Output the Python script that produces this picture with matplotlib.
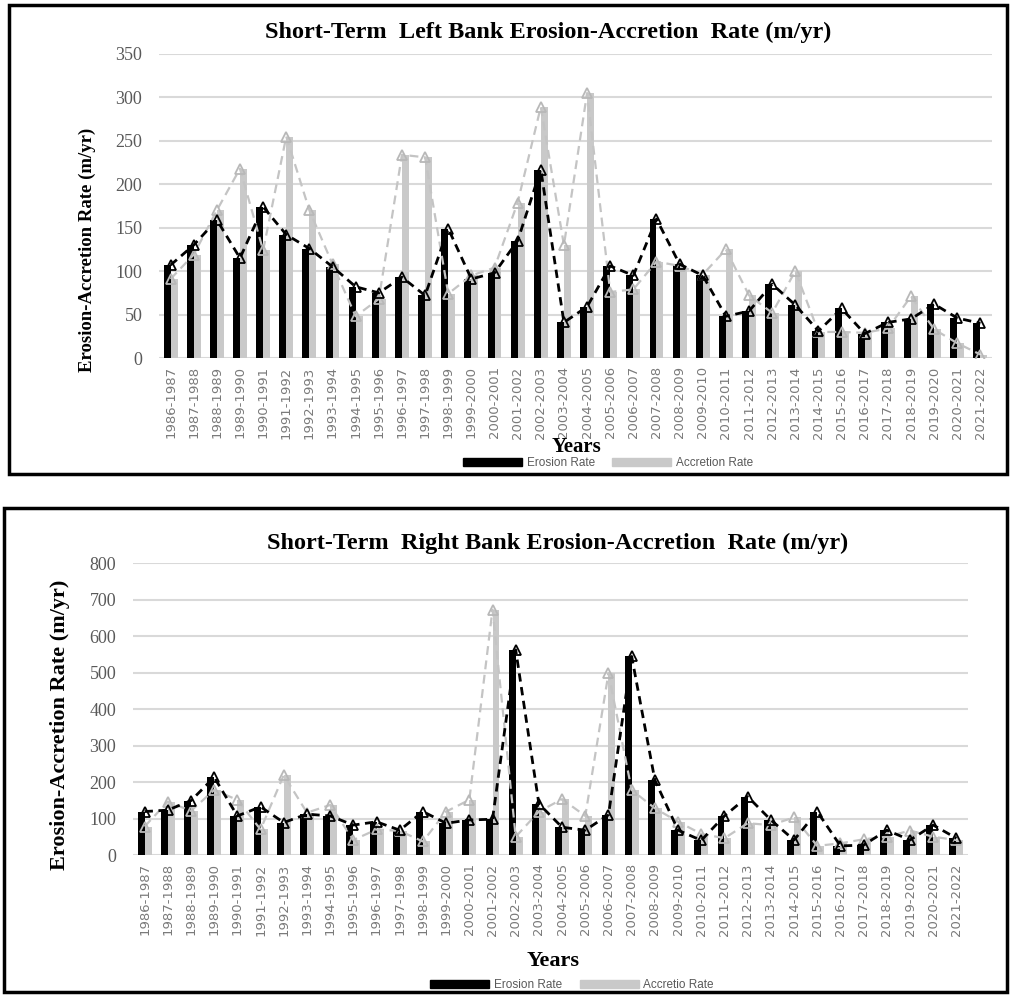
import matplotlib
matplotlib.use("Agg")
import matplotlib.pyplot as plt
from matplotlib.patches import Patch, Rectangle
import numpy as np

periods = ["1986-1987", "1987-1988", "1988-1989", "1989-1990", "1990-1991", "1991-1992",
           "1992-1993", "1993-1994", "1994-1995", "1995-1996", "1996-1997", "1997-1998",
           "1998-1999", "1999-2000", "2000-2001", "2001-2002", "2002-2003", "2003-2004",
           "2004-2005", "2005-2006", "2006-2007", "2007-2008", "2008-2009", "2009-2010",
           "2010-2011", "2011-2012", "2012-2013", "2013-2014", "2014-2015", "2015-2016",
           "2016-2017", "2017-2018", "2018-2019", "2019-2020", "2020-2021", "2021-2022"]

# Left bank rates (m/yr)
left_erosion = [107, 130, 159, 115, 174, 142, 126, 105, 82, 75, 93, 72,
                149, 91, 98, 135, 217, 41, 59, 106, 95, 160, 108, 95,
                48, 54, 85, 61, 31, 57, 28, 41, 45, 62, 46, 40]
left_accretion = [91, 119, 170, 218, 124, 255, 170, 108, 48, 68, 234, 231,
                  74, 95, 104, 179, 289, 130, 305, 76, 79, 111, 106, 96,
                  125, 72, 52, 100, 30, 30, 29, 34, 71, 33, 17, 4]

# Right bank rates (m/yr)
right_erosion = [119, 123, 149, 213, 107, 132, 89, 112, 107, 82, 91, 68,
                 119, 87, 96, 98, 562, 140, 76, 68, 110, 544, 205, 68,
                 40, 107, 160, 96, 41, 119, 25, 27, 68, 41, 82, 46]
right_accretion = [78, 146, 121, 178, 151, 70, 219, 116, 137, 41, 70, 66,
                   37, 119, 151, 672, 50, 119, 153, 107, 498, 178, 128, 91,
                   58, 46, 87, 82, 103, 25, 32, 43, 50, 67, 50, 41]

W, H = 1011, 996
fig = plt.figure(figsize=(W / 100, H / 100), dpi=100)

BLACK = "#000000"
GREY_BAR = "#c9c9c9"
GREY_LINE = "#c4c4c4"
GRID = "#d9d9d9"
TICK = "#595959"


def panel(rect, erosion, accretion, ymax, ystep):
    ax = fig.add_axes(rect)
    x = np.arange(len(periods))
    bw = 0.3
    ax.bar(x - bw / 2, erosion, width=bw, color=BLACK, zorder=2)
    ax.bar(x + bw / 2, accretion, width=bw, color=GREY_BAR, zorder=2)
    ax.plot(x, accretion, color=GREY_LINE, lw=1.6, dashes=(4, 2.5), marker="^",
            ms=7, mfc="none", mec="#b8b8b8", mew=1.3, zorder=3)
    ax.plot(x, erosion, color=BLACK, lw=2.0, dashes=(3, 2), marker="^",
            ms=7, mfc="none", mec=BLACK, mew=1.3, zorder=4)
    ax.set_xlim(-0.5, len(periods) - 0.5)
    ax.set_ylim(0, ymax)
    ax.set_yticks(np.arange(0, ymax + 1, ystep))
    ax.yaxis.grid(True, color=GRID, lw=1.5, zorder=0)
    ax.set_axisbelow(True)
    for s in ax.spines.values():
        s.set_visible(False)
    ax.tick_params(axis="both", length=0)
    ax.tick_params(axis="y", pad=12, labelcolor=TICK, labelsize=13)
    for t in ax.get_yticklabels():
        t.set_fontfamily("Liberation Serif")
    ax.set_xticks(x)
    ax.set_xticklabels(periods, rotation=90, fontsize=9.5, color="#7a7a7a",
                       family="DejaVu Sans")
    ax.tick_params(axis="x", pad=6)
    return ax


def frame(x0, y0, x1, y1):
    fig.patches.append(Rectangle((x0 / W, 1 - y1 / H), (x1 - x0) / W, (y1 - y0) / H,
                                 transform=fig.transFigure, fill=False,
                                 edgecolor=BLACK, lw=2.5, zorder=10))


serif_bold = dict(family="Liberation Serif", weight="bold", color=BLACK)

# Left bank panel
frame(9, 5, 1007, 474)
panel([159 / W, 1 - 358 / H, (992 - 159) / W, (358 - 54) / H],
      left_erosion, left_accretion, 350, 50)
fig.text(548 / W, 1 - 32 / H, "Short-Term  Left Bank Erosion-Accretion  Rate (m/yr)",
         ha="center", va="center", fontsize=17.5, **serif_bold)
fig.text(87 / W, 1 - 250 / H, "Erosion-Accretion Rate (m/yr)", rotation=90,
         ha="center", va="center", fontsize=13.5, **serif_bold)
fig.text(576 / W, 1 - 447 / H, "Years", ha="center", va="center", fontsize=15, **serif_bold)
fig.legend(handles=[Patch(color=BLACK, label="Erosion Rate"),
                    Patch(color=GREY_BAR, label="Accretion Rate")],
           loc="center", bbox_to_anchor=(608 / W, 1 - 463 / H), ncol=2, frameon=False,
           handlelength=5, handleheight=0.6, columnspacing=1.5, handletextpad=0.4,
           prop=dict(family="Liberation Sans", size=8.5), labelcolor=TICK)

# Right bank panel
frame(4, 508, 1007, 992)
panel([133 / W, 1 - 855 / H, (968 - 133) / W, (855 - 563) / H],
      right_erosion, right_accretion, 800, 100)
fig.text(558 / W, 1 - 543 / H, "Short-Term  Right Bank Erosion-Accretion  Rate (m/yr)",
         ha="center", va="center", fontsize=17.5, **serif_bold)
fig.text(60 / W, 1 - 725 / H, "Erosion-Accretion Rate (m/yr)", rotation=90,
         ha="center", va="center", fontsize=16, **serif_bold)
fig.text(553 / W, 1 - 961 / H, "Years", ha="center", va="center", fontsize=16, **serif_bold)
fig.legend(handles=[Patch(color=BLACK, label="Erosion Rate"),
                    Patch(color=GREY_BAR, label="Accretio Rate")],
           loc="center", bbox_to_anchor=(572 / W, 1 - 985 / H), ncol=2, frameon=False,
           handlelength=5, handleheight=0.6, columnspacing=1.5, handletextpad=0.4,
           prop=dict(family="Liberation Sans", size=8.5), labelcolor=TICK)

fig.savefig("out.png", dpi=100)
